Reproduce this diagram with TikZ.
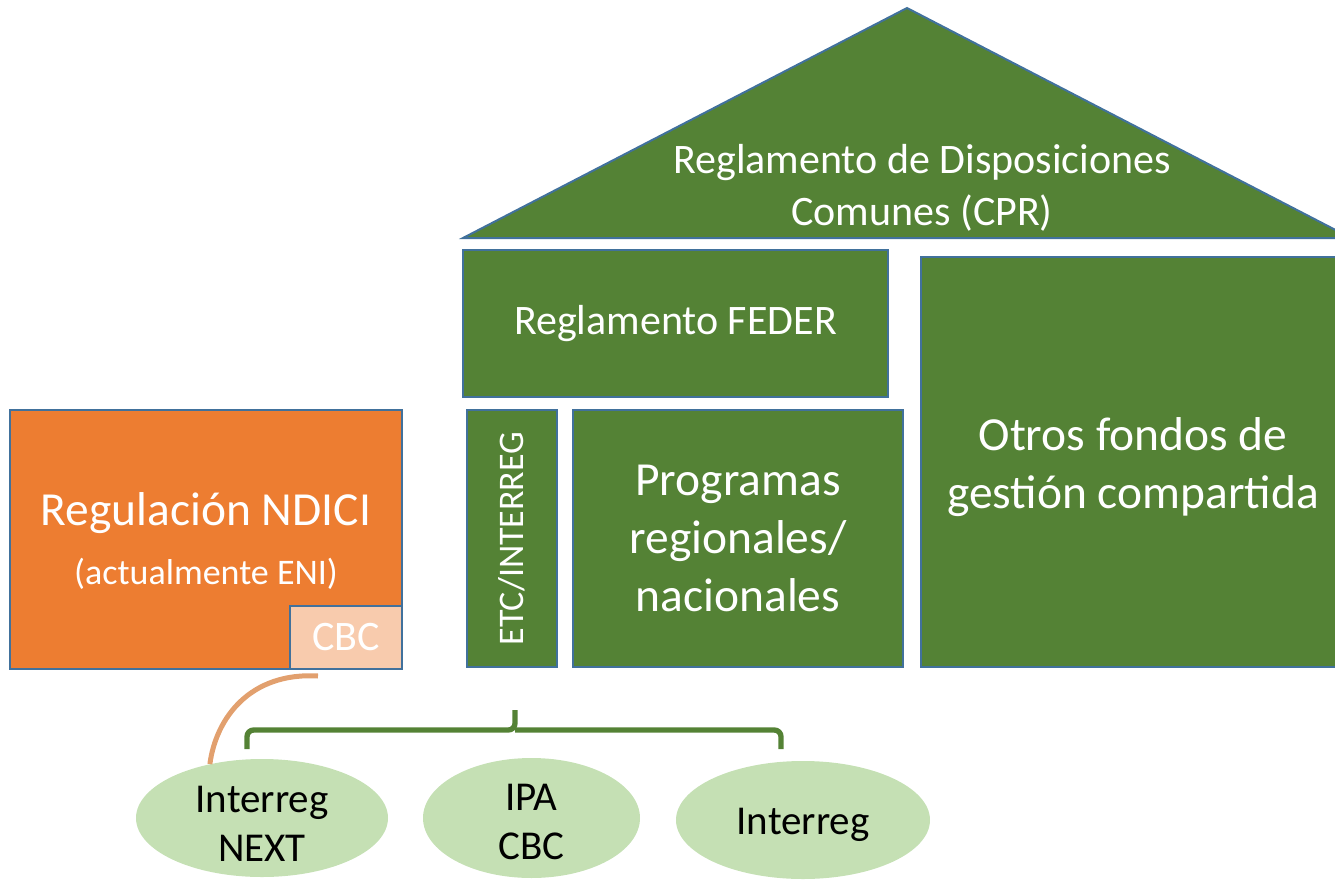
\documentclass[tikz,border=0pt]{standalone}
\usepackage{fontspec}
\setmainfont{Carlito}
\usetikzlibrary{shapes.geometric,calc}
\definecolor{gr}{HTML}{548235}
\definecolor{bd}{HTML}{41719C}
\definecolor{orng}{HTML}{ED7D31}
\definecolor{lorng}{HTML}{F8CBAD}
\definecolor{lgr}{HTML}{C5E0B4}
\definecolor{arcc}{HTML}{E2A06E}
\newcommand{\fbig}{\fontsize{35.6}{43.5}\selectfont}
\newcommand{\fmid}{\fontsize{31.5}{39}\selectfont}
\newcommand{\fell}{\fontsize{30.75}{36.5}\selectfont}
\newcommand{\fsml}{\fontsize{27}{33}\selectfont}
\begin{document}
\begin{tikzpicture}[x=0.75pt,y=-0.75pt,
  box/.style={draw=bd,line width=1.5pt,fill=gr,text=white,align=center,inner sep=0pt},
  ell/.style={ellipse,fill=lgr,draw=none,inner sep=0pt},
  elltext/.style={align=center,inner sep=0pt,font=\fell,text=black},
  bracestyle/.style={draw=gr,line width=4pt,rounded corners=5pt},
  arcstyle/.style={draw=arcc,line width=3.75pt}]
\useasboundingbox (0,0) rectangle (1335,881);
\clip (0,0) rectangle (1335,881);
% roof
\coordinate (roofL) at (463,238);
\coordinate (roofT) at (907,8);
\coordinate (roofR) at (1351,238);
\filldraw[fill=gr,draw=bd,line width=1.5pt] (roofL) -- (roofT) -- (roofR) -- cycle;
\node[text=white,align=center,font=\fmid] (cpr) at (922,188) {Reglamento de Disposiciones\\Comunes (CPR)};
% boxes
\node[box,font=\fmid,minimum width=318.75pt,minimum height=110.25pt] (feder) at (675.5,323.5) {Reglamento FEDER};
\node[box,font=\fsml,rotate=90,minimum width=192.75pt,minimum height=67.5pt] (etc) at (512,538.5) {ETC/INTERREG};
\node[box,font=\fbig,minimum width=247.5pt,minimum height=192.75pt] (prog) at (738,538.5) {Programas\\regionales/\\nacionales};
\node[box,minimum width=318pt,minimum height=307.5pt] (otros) at (1133,462) {};
\node[text=white,align=center,font=\fbig] (otrosT) at (1133,467) {Otros fondos de\\gestión compartida};
% NDICI
\node[box,fill=orng,minimum width=294pt,minimum height=194.25pt] (ndici) at (206,539.5) {};
\node[text=white,font=\fbig] (ndiciT) at (206,513) {Regulación NDICI};
\node[text=white,font=\fsml] (ndiciS) at (206,574) {(actualmente ENI)};
\node[box,fill=lorng,font=\fmid,minimum width=84pt,minimum height=47.25pt] (cbc) at (346,637.5) {CBC};
% ellipses
\node[ell,minimum width=189pt,minimum height=88.5pt] (el1) at (262,818) {};
\node[ell,minimum width=162.75pt,minimum height=90pt] (el2) at (531.5,818) {};
\node[ell,minimum width=190.5pt,minimum height=88.5pt] (el3) at (803,820) {};
\node[elltext] (el1t) at (262,824) {Interreg\\NEXT};
\node[elltext] (el2t) at (531.5,822) {IPA\\CBC};
\node[elltext] (el3t) at (803,825) {Interreg};
% arc from CBC to Interreg NEXT
\draw[arcstyle] ($(cbc.south)+(-28,6)$) .. controls (250,672) and (216,718) .. (el1.134);
% bracket
\coordinate (bL) at (247,749);
\coordinate (bR) at (781,749);
\coordinate (bH) at (515,730);
\coordinate (bM) at (515,710);
\draw[bracestyle] (bL) |- (bH) -- (bM);
\draw[bracestyle] (bR) |- (bH);
\end{tikzpicture}
\end{document}
